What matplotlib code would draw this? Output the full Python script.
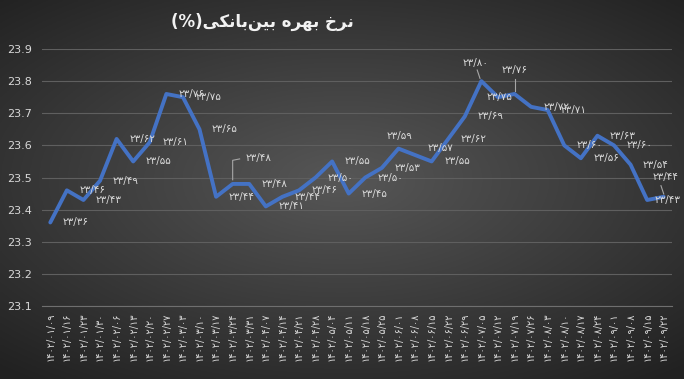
import numpy as np
import matplotlib.pyplot as plt
from matplotlib.transforms import IdentityTransform

# weekly dates (1402 solar hijri), values of interbank rate in percent
dates = ['1402/01/09', '1402/01/16', '1402/01/23', '1402/01/30', '1402/02/06', '1402/02/13',
         '1402/02/20', '1402/02/27', '1402/03/03', '1402/03/10', '1402/03/17', '1402/03/24',
         '1402/03/31', '1402/04/07', '1402/04/14', '1402/04/21', '1402/04/28', '1402/05/04',
         '1402/05/11', '1402/05/18', '1402/05/25', '1402/06/01', '1402/06/08', '1402/06/15',
         '1402/06/22', '1402/06/29', '1402/07/05', '1402/07/12', '1402/07/19', '1402/07/26',
         '1402/08/03', '1402/08/10', '1402/08/17', '1402/08/24', '1402/09/01', '1402/09/08',
         '1402/09/15', '1402/09/22']
rates = [23.36, 23.46, 23.43, 23.49, 23.62, 23.55, 23.61, 23.76, 23.75, 23.65,
         23.44, 23.48, 23.48, 23.41, 23.44, 23.46, 23.50, 23.55, 23.45, 23.50,
         23.53, 23.59, 23.57, 23.55, 23.62, 23.69, 23.80, 23.75, 23.76, 23.72,
         23.71, 23.60, 23.56, 23.63, 23.60, 23.54, 23.43, 23.44]
y_ticks = [23.1, 23.2, 23.3, 23.4, 23.5, 23.6, 23.7, 23.8, 23.9]

# title "نرخ بهره بین‌بانکی(%)": matplotlib has no bidi/shaping here, so use
# presentation forms written in visual (left-to-right) order
title = ('(%)'
         '\uFEF0\uFEDC\uFEE7\uFE8E\uFE91'   # بانکی
         '\uFEE6\uFEF4\uFE91'               # بین
         ' \uFEE9\uFEAE\uFEEC\uFE91'        # بهره
         ' \uFEA5\uFEAE\uFEE7')             # نرخ

fa = str.maketrans('0123456789.', '۰۱۲۳۴۵۶۷۸۹/')
def to_fa(s):
    return s.translate(fa)

txt = '#d9d9d9'
fig = plt.figure(figsize=(6.84, 3.79), dpi=100)

# radial dark background
bg = fig.add_axes([0, 0, 1, 1], zorder=-5)
gx, gy = np.meshgrid(np.linspace(-1, 1, 300), np.linspace(-1, 1, 200))
r = np.clip(np.sqrt((gx * 0.9) ** 2 + (gy * 1.0 + 0.05) ** 2) / 1.35, 0, 1)
c0, c1 = np.array([0.34, 0.34, 0.34]), np.array([0.13, 0.13, 0.13])
img = c0[None, None, :] * (1 - r[..., None]) + c1[None, None, :] * r[..., None]
bg.imshow(img, aspect='auto', extent=[0, 1, 0, 1])
bg.axis('off')

ax = fig.add_axes([0.0614, 0.1926, 0.9211, 0.6781])
ax.set_facecolor('none')
x = np.arange(len(rates))
ax.plot(x, rates, color='#4472C4', lw=2.8, solid_joinstyle='round', solid_capstyle='round', zorder=3)

# data label offsets in points (default: right of the point)
special = {11: (9, 19), 21: (1, 9), 22: (9, 5), 26: (-4, 13), 27: (1, 0),
           28: (0, 17), 36: (5, 0), 37: (1, 14)}
centered = (21, 26, 27, 28, 37)
leaders = {11: [(0, 3), (0, 17), (5, 18)], 26: [(-1, 2), (-3, 8)],
           28: [(0, 2), (0, 11)], 37: [(0, 2), (-2, 8)]}
k = fig.dpi / 72
for i, v in enumerate(rates):
    dx, dy = special.get(i, (9, 0))
    ax.annotate(to_fa(f'{v:.2f}'), (i, v), xytext=(dx, dy), textcoords='offset points',
                ha='center' if i in centered else 'left', va='center',
                color=txt, fontsize=7.5, zorder=4)

ax.set_xlim(-0.5, len(rates) - 0.5)
ax.set_ylim(23.1, 23.9)

# leader lines drawn in pixel space from the point
fig.canvas.draw()
for i, pts in leaders.items():
    px, py = ax.transData.transform((i, rates[i]))
    ax.plot([px + a * k for a, b in pts], [py + b * k for a, b in pts],
            color='#a6a6a6', lw=0.8, transform=IdentityTransform(), zorder=2)

ax.set_yticks(y_ticks)
ax.set_yticklabels([f'{t:.1f}' for t in y_ticks], color=txt, fontsize=8)
ax.set_xticks(x)
ax.set_xticklabels([to_fa(d) for d in dates], rotation=90, color=txt, fontsize=7)
ax.tick_params(axis='both', length=0)
ax.tick_params(axis='y', pad=7)
ax.tick_params(axis='x', pad=5)
ax.grid(axis='y', color='#5f5f5f', lw=0.8)
ax.set_axisbelow(True)
for s in ['top', 'right', 'left']:
    ax.spines[s].set_visible(False)
ax.spines['bottom'].set_color('#6f6f6f')

fig.text(0.383, 0.942, title, ha='center', va='center', color='#f2f2f2',
         fontsize=12, fontweight='bold')

fig.savefig('out.png', dpi=100)
